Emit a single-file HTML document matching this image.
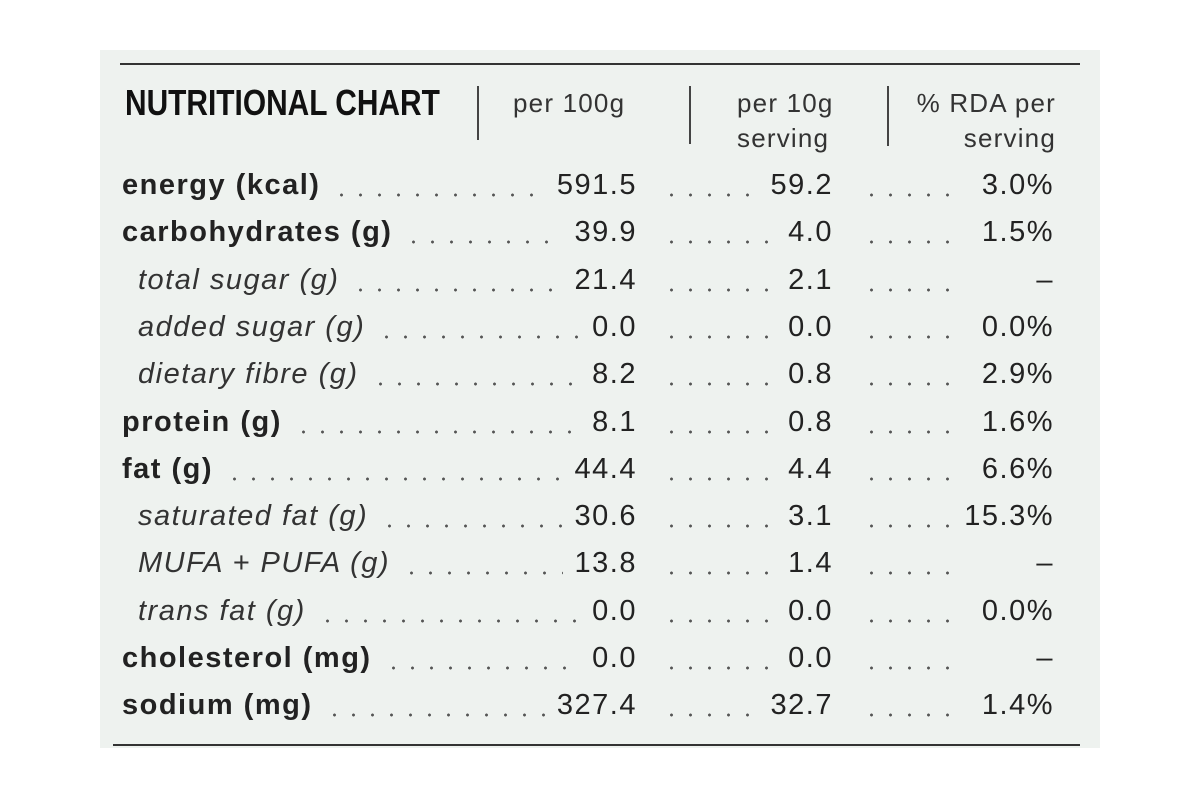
<!DOCTYPE html>
<html><head><meta charset="utf-8"><style>
body{margin:0;width:1200px;height:800px;background:#fff;position:relative;overflow:hidden;font-family:"Liberation Sans",sans-serif;color:#222}
#panel{position:absolute;left:100px;top:50px;width:1000px;height:698px;background:#eef2ef}
.hr{position:absolute;height:2px;background:#333}
.vr{position:absolute;width:2px;background:#444}
.h{position:absolute;font-size:26px;line-height:35px;letter-spacing:1.2px;color:#333}
.row{position:absolute;left:0;width:1200px;height:40px;font-size:29px;line-height:40px;letter-spacing:1.5px}
.cell{position:absolute;top:0;display:flex;height:40px;white-space:nowrap}
.dots{flex:1;margin:0 12px;background-image:radial-gradient(circle,#555 1.3px,transparent 1.6px);background-size:19px 6px;background-repeat:repeat-x;background-position:0 27px}
.nm.b{font-weight:bold}
.nm.i{font-style:italic;color:#333}
</style></head><body>
<div id="panel"></div>
<div class="hr" style="left:120px;top:63px;width:960px"></div>
<div class="hr" style="left:113px;top:744px;width:967px"></div>
<div style="position:absolute;left:125px;top:82px;font-weight:bold;font-size:36px;line-height:42px;color:#111;transform:scaleX(0.83);transform-origin:0 0;white-space:nowrap">NUTRITIONAL CHART</div>
<div class="vr" style="left:477px;top:86px;height:54px"></div>
<div class="vr" style="left:689px;top:86px;height:58px"></div>
<div class="vr" style="left:887px;top:86px;height:60px"></div>
<div class="h" style="left:513px;top:86px">per 100g</div>
<div class="h" style="left:737px;top:86px">per 10g<br>serving</div>
<div class="h" style="left:896px;top:86px;text-align:right;width:160px">% RDA per<br>serving</div>
<div id="rows"></div>
<script>
const names=["energy (kcal)","carbohydrates (g)","total sugar (g)","added sugar (g)","dietary fibre (g)","protein (g)","fat (g)","saturated fat (g)","MUFA + PUFA (g)","trans fat (g)","cholesterol (mg)","sodium (mg)"];
const styles=["b","b","i","i","i","b","b","i","i","i","b","b"];
const per100=["591.5","39.9","21.4","0.0","8.2","8.1","44.4","30.6","13.8","0.0","0.0","327.4"];
const per10=["59.2","4.0","2.1","0.0","0.8","0.8","4.4","3.1","1.4","0.0","0.0","32.7"];
const rda=["3.0%","1.5%","–","0.0%","2.9%","1.6%","6.6%","15.3%","–","0.0%","–","1.4%"];
const host=document.getElementById('rows');
names.forEach((n,i)=>{
  const y=165+i*47.3;
  const r=document.createElement('div');r.className='row';r.style.top=y+'px';
  
  
  const left=styles[i]==='i'?138:122;
  r.innerHTML=
   `<div class="cell" style="left:${left}px;width:${637-left}px"><span class="nm ${styles[i]}">${n}</span><span class="dots"></span><span>${per100[i]}</span></div>`+
   `<div class="cell" style="left:650px;width:183px"><span class="dots"></span><span>${per10[i]}</span></div>`+
   `<div class="cell" style="left:850px;width:204px"><span class="dots" style="flex:none;width:90px"></span><span style="flex:1;text-align:right">${rda[i]}</span></div>`;
  host.appendChild(r);
});
</script>
</body></html>
